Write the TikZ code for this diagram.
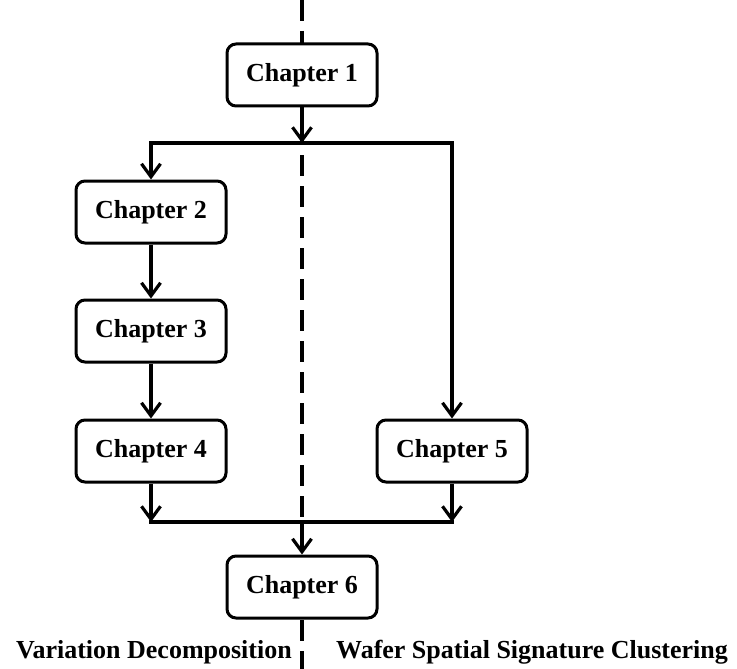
\documentclass[tikz,border=0pt]{standalone}
\usepackage{fontspec}
\setmainfont{Liberation Serif}
\usetikzlibrary{arrows.meta}

\tikzset{
chapbox/.style={draw, fill=white, line width=3pt, rounded corners=9pt, minimum width=150pt, minimum height=62pt, inner sep=0pt, font=\fontsize{26}{30}\selectfont\bfseries},
partlabel/.style={inner sep=0pt, font=\fontsize{26}{30}\selectfont\bfseries},
flowarrow/.style={draw, line width=3.2pt, -{Straight Barb[length=13pt,width=19pt]}},
flowline/.style={draw, line width=3.2pt, line cap=rect}
}

\begin{document}
\begin{tikzpicture}[x=1pt,y=-1pt]
\useasboundingbox (0,0) rectangle (737,669);
% divider between the two parts
\coordinate (top) at (302,0);
\coordinate (bot) at (302,669);
\draw[line width=3.5pt, dash pattern=on 21pt off 10pt] (top) -- (bot);

\node[chapbox] (ch1) at (302,75) {Chapter 1};
\node[chapbox] (ch2) at (151,212) {Chapter 2};
\node[chapbox] (ch3) at (151,331) {Chapter 3};
\node[chapbox] (ch4) at (151,451) {Chapter 4};
\node[chapbox] (ch5) at (452,451) {Chapter 5};
\node[chapbox] (ch6) at (302,587) {Chapter 6};

\coordinate (split) at (302,143);
\coordinate (join) at (302,522);

% split
\path[flowarrow] (ch1) -- (split);
\path[flowarrow] (split) -| (ch2);
\path[flowarrow] (split) -| (ch5);

% left column
\path[flowarrow] (ch2) -- (ch3);
\path[flowarrow] (ch3) -- (ch4);

% join
\path[flowarrow] (ch4) -- (ch4 |- join);
\path[flowarrow] (ch5) -- (ch5 |- join);
\path[flowline] (ch4 |- join) -- (ch5 |- join);
\path[flowarrow] (join) -- (ch6);

\node[partlabel, anchor=base east] (vd) at (292,658) {Variation Decomposition};
\node[partlabel, anchor=base west] (wssc) at (336,658) {Wafer Spatial Signature Clustering};
\end{tikzpicture}
\end{document}
